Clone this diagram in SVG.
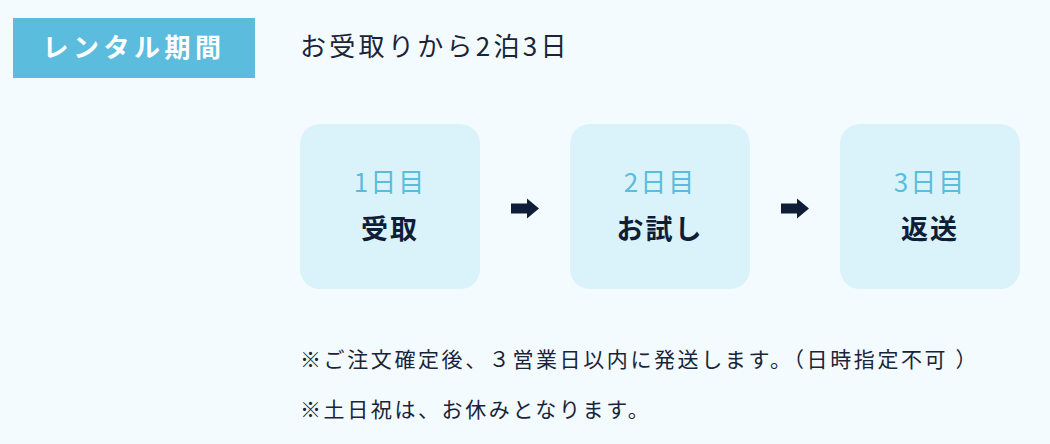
<svg xmlns="http://www.w3.org/2000/svg" width="1050" height="444" viewBox="0 0 1050 444">
<defs>
<style>
.jp{font-family:"Noto Sans CJK JP","Noto Sans",sans-serif}
.day{font-size:26px;fill:#5bbcdd;text-anchor:middle;letter-spacing:2px}
.act{font-size:27px;font-weight:bold;fill:#0f1d38;text-anchor:middle;letter-spacing:2px}
.box{fill:#daf3fa}
.note{font-size:21px;fill:#1a2438;letter-spacing:2.6px}
.arr{fill:#0f1d38}
</style>
</defs>
<rect width="1050" height="444" fill="#f3fbff"/>
<g id="label">
<rect x="13" y="18" width="242" height="60" fill="#5bbcdd"/>
<text class="jp" x="134" y="57" font-size="26" font-weight="bold" fill="#ffffff" text-anchor="middle" letter-spacing="4.5">レンタル期間</text>
</g>
<g id="title">
<text class="jp" x="300" y="56" font-size="26" fill="#1a2438" letter-spacing="3.3">お受取りから2泊3日</text>
</g>
<g id="day1">
<rect class="box" x="300" y="124" width="180" height="165" rx="20"/>
<text class="jp day" x="390" y="192">1日目</text>
<text class="jp act" x="390" y="239">受取</text>
</g>
<g id="day2">
<rect class="box" x="570" y="124" width="180" height="165" rx="20"/>
<text class="jp day" x="660" y="192">2日目</text>
<text class="jp act" x="660" y="239">お試し</text>
</g>
<g id="day3">
<rect class="box" x="840" y="124" width="180" height="165" rx="20"/>
<text class="jp day" x="930" y="192">3日目</text>
<text class="jp act" x="930" y="239">返送</text>
</g>
<g id="connectors">
<path class="arr" d="M511 203.5 H527 V198.5 L539 208.5 L527 218.5 V213.5 H511 Z"/>
<path class="arr" d="M781 203.5 H797 V198.5 L809 208.5 L797 218.5 V213.5 H781 Z"/>
</g>
<g id="notes">
<text class="jp note" x="300" y="367">※ご注文確定後、３営業日以内に発送します。（日時指定不可 ）</text>
<text class="jp note" x="300" y="417">※土日祝は、お休みとなります。</text>
</g>
</svg>
